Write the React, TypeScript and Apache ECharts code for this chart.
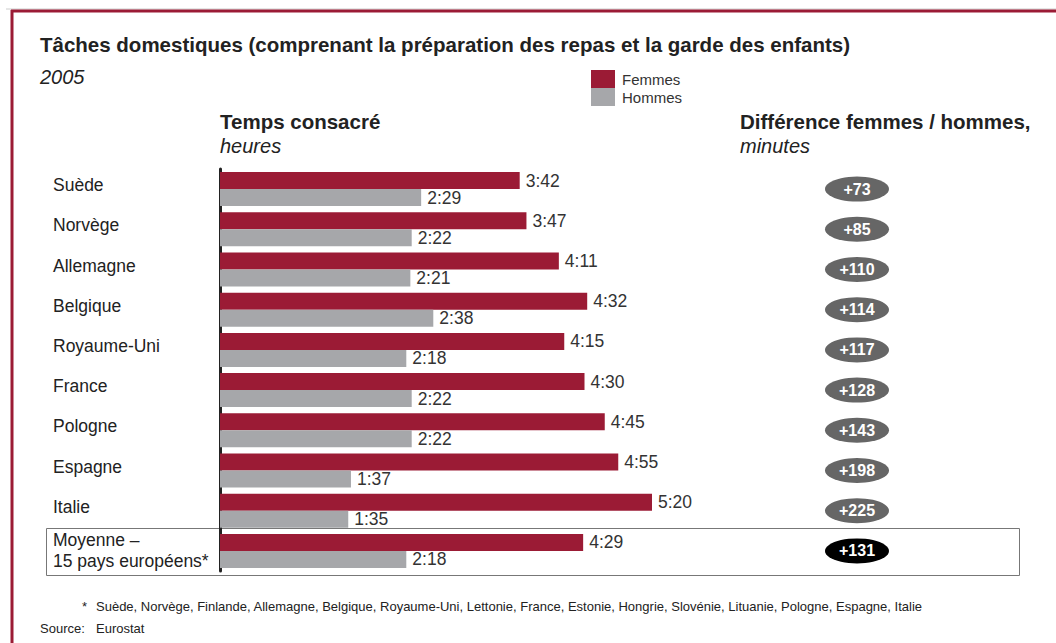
import React, { useEffect, useRef } from 'react';
import * as echarts from 'echarts';

const countries = ['Suède', 'Norvège', 'Allemagne', 'Belgique', 'Royaume-Uni', 'France', 'Pologne', 'Espagne', 'Italie', 'Moyenne –\n15 pays européens*'];
// minutes per day
const femmes = [222, 227, 251, 272, 255, 270, 285, 295, 320, 269];
const hommes = [149, 142, 141, 158, 138, 142, 142, 97, 95, 138];
// difference femmes / hommes, minutes
const differences = [73, 85, 110, 114, 117, 128, 143, 198, 225, 131];

const RED = '#9b1b35';
const GREY = '#a6a7aa';
const FONT = 'Arial, "Liberation Sans", sans-serif';

const fmt = (m: number) => Math.floor(m / 60) + ':' + String(m % 60).padStart(2, '0');

const txt = (x: number, y: number, text: string, font: string, fill = '#222', align = 'left') => ({
  type: 'text',
  x,
  y,
  silent: true,
  style: { text, font, fill, textAlign: align, textVerticalAlign: 'middle' },
});

export default function App() {
  const ref = useRef<HTMLDivElement>(null);
  useEffect(() => {
    if (!ref.current) return;
    const chart = echarts.init(ref.current, undefined, { renderer: 'svg' });
    const n = countries.length;
    const barLabel = {
      show: true,
      position: 'right',
      distance: 6,
      formatter: (p: any) => fmt(p.value),
      fontSize: 17.5,
      color: '#333',
      fontFamily: FONT,
    };
    chart.setOption({
      animation: false,
      backgroundColor: '#fff',
      textStyle: { fontFamily: FONT },
      legend: {
        orient: 'vertical',
        left: 591,
        top: 70,
        padding: 0,
        itemWidth: 24,
        itemHeight: 18,
        itemGap: 0,
        icon: 'rect',
        selectedMode: false,
        textStyle: { fontSize: 15, color: '#333', fontFamily: FONT, padding: [0, 0, 0, 2] },
        data: ['Femmes', 'Hommes'],
      },
      grid: [
        { left: 220, top: 169, width: 540, height: 402 },
        { left: 820, top: 169, width: 74, height: 402 },
      ],
      xAxis: [
        { gridIndex: 0, type: 'value', min: 0, max: 400, show: false },
        { gridIndex: 1, type: 'value', min: 0, max: 2, show: false },
      ],
      yAxis: [
        {
          gridIndex: 0,
          type: 'category',
          inverse: true,
          data: countries,
          axisLine: { show: true, lineStyle: { color: '#222', width: 3 } },
          axisTick: { show: false },
          axisLabel: {
            align: 'left',
            margin: 167,
            fontSize: 17.5,
            color: '#222',
            fontFamily: FONT,
            lineHeight: 21,
            formatter: (v: string) => (v.indexOf('\n') >= 0 ? v : `{s|${v}}`),
            rich: { s: { fontSize: 17.5, color: '#222', fontFamily: FONT, padding: [0, 0, 8, 0] } },
          },
        },
        {
          gridIndex: 1,
          type: 'category',
          inverse: true,
          data: countries,
          show: false,
        },
      ],
      series: [
        {
          name: 'Femmes',
          type: 'bar',
          xAxisIndex: 0,
          yAxisIndex: 0,
          data: femmes,
          barWidth: 17,
          barGap: '0%',
          itemStyle: { color: RED },
          label: barLabel,
        },
        {
          name: 'Hommes',
          type: 'bar',
          xAxisIndex: 0,
          yAxisIndex: 0,
          data: hommes,
          barWidth: 17,
          barGap: '0%',
          itemStyle: { color: GREY },
          label: barLabel,
        },
        {
          name: 'Différence',
          type: 'scatter',
          xAxisIndex: 1,
          yAxisIndex: 1,
          symbol: 'circle',
          symbolSize: [64, 25],
          data: differences.map((d, i) => ({
            value: [1, i, d],
            itemStyle: { color: i === n - 1 ? '#000' : '#666', opacity: 1 },
          })),
          label: {
            show: true,
            position: 'inside',
            formatter: (p: any) => '+' + p.value[2],
            fontSize: 16,
            fontWeight: 'bold',
            color: '#fff',
            fontFamily: FONT,
          },
          silent: true,
        },
      ],
      graphic: [
        { type: 'line', silent: true, shape: { x1: 6, y1: 9, x2: 1056, y2: 9 }, style: { stroke: '#ccc', lineWidth: 1 } },
        { type: 'line', silent: true, shape: { x1: 11, y1: 11, x2: 1056, y2: 11 }, style: { stroke: RED, lineWidth: 3 } },
        { type: 'line', silent: true, shape: { x1: 12, y1: 10, x2: 12, y2: 643 }, style: { stroke: RED, lineWidth: 3 } },
        txt(40, 44, 'Tâches domestiques (comprenant la préparation des repas et la garde des enfants)', `bold 20.5px ${FONT}`, '#222'),
        txt(40, 77, '2005', `italic 20px ${FONT}`, '#222'),
        txt(220, 121, 'Temps consacré', `bold 20.5px ${FONT}`, '#222'),
        txt(220, 146, 'heures', `italic 20px ${FONT}`, '#222'),
        txt(740, 121, 'Différence femmes / hommes,', `bold 20.5px ${FONT}`, '#222'),
        txt(740, 146, 'minutes', `italic 20px ${FONT}`, '#222'),
        {
          type: 'rect',
          silent: true,
          z: -1,
          shape: { x: 46.5, y: 528.5, width: 973, height: 47 },
          style: { fill: 'none', stroke: '#777', lineWidth: 1 },
        },
        txt(82, 606, '*', `13px ${FONT}`, '#222'),
        txt(96, 606, 'Suède, Norvège, Finlande, Allemagne, Belgique, Royaume-Uni, Lettonie, France, Estonie, Hongrie, Slovénie, Lituanie, Pologne, Espagne, Italie', `13px ${FONT}`, '#222'),
        txt(40, 628, 'Source:', `13px ${FONT}`, '#222'),
        txt(96, 628, 'Eurostat', `13px ${FONT}`, '#222'),
      ],
    });
    return () => chart.dispose();
  }, []);
  return <div ref={ref} style={{ position: 'fixed', left: 0, top: 0, width: 1056, height: 643 }} />;
}
